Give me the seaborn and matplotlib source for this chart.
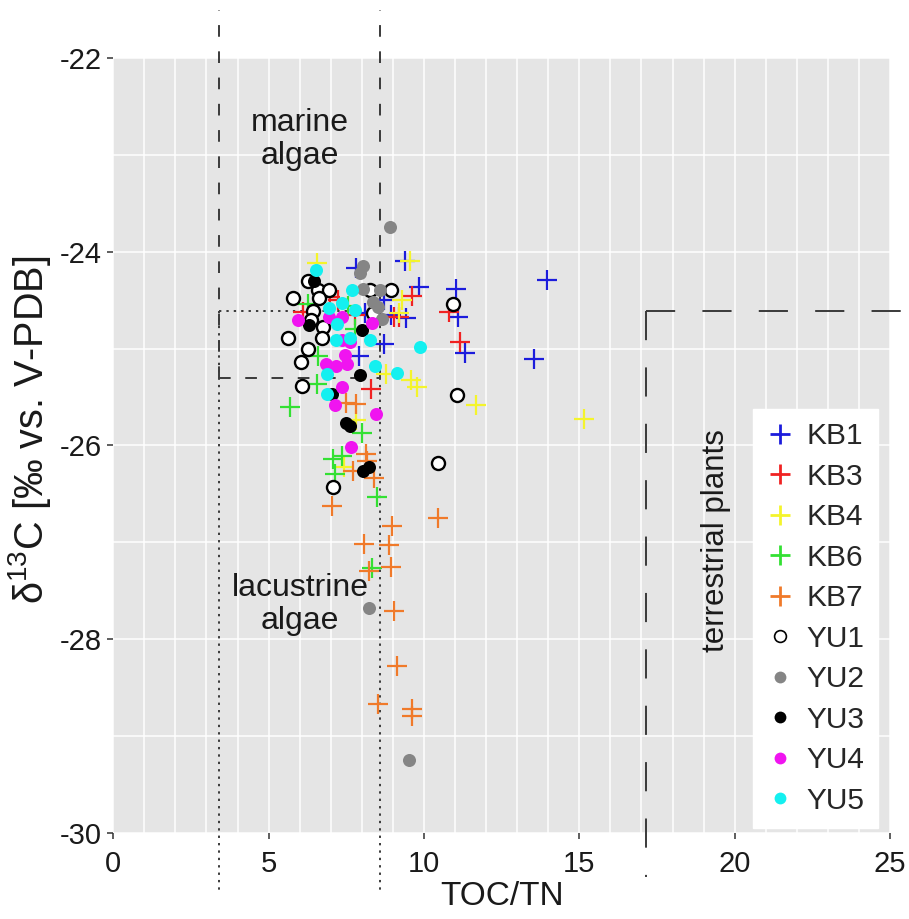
import matplotlib
matplotlib.use("Agg")
import matplotlib.pyplot as plt
import seaborn as sns
import pandas as pd
from matplotlib.lines import Line2D

# ---------------- data ----------------
KB1_x = [7.82, 9.40, 9.83, 11.02, 13.95, 8.72, 8.10, 8.93, 9.42, 11.10, 8.72, 7.92, 11.32, 13.55]
KB1_y = [-24.17, -24.10, -24.36, -24.38, -24.29, -24.50, -24.63, -24.65, -24.68, -24.67, -24.95, -25.08, -25.05, -25.11]

KB3_x = [9.62, 9.05, 9.20, 10.82, 11.15, 8.30, 7.23, 7.78, 6.10, 6.98]
KB3_y = [-24.46, -24.67, -24.67, -24.62, -24.93, -25.42, -24.50, -24.65, -24.62, -24.47]

KB4_x = [6.55, 9.55, 9.30, 9.20, 8.78, 9.58, 9.78, 11.68, 15.15, 7.80, 7.42]
KB4_y = [-24.12, -24.10, -24.50, -24.63, -25.26, -25.32, -25.40, -25.58, -25.73, -25.74, -26.22]

KB6_x = [5.70, 6.55, 6.60, 6.28, 7.57, 7.78, 8.00, 7.08, 7.35, 7.14, 8.50, 8.34]
KB6_y = [-25.60, -25.37, -25.08, -24.54, -24.56, -24.80, -25.87, -26.14, -26.11, -26.29, -26.53, -27.26]

KB7_x = [7.50, 7.82, 8.14, 8.16, 7.71, 8.40, 7.05, 10.45, 8.98, 8.08, 8.88, 8.93, 8.22, 9.04, 9.14, 8.51, 9.60, 9.60]
KB7_y = [-25.56, -25.57, -26.09, -26.16, -26.26, -26.34, -26.62, -26.75, -26.83, -27.02, -27.03, -27.25, -27.30, -27.71, -28.28, -28.67, -28.72, -28.79]

YU1_x = [6.26, 6.58, 6.95, 5.79, 6.61, 6.42, 6.37, 6.74, 5.63, 6.72, 6.26, 6.05, 6.08, 8.26, 8.93, 8.37, 10.93, 11.05, 10.45, 7.08]
YU1_y = [-24.30, -24.39, -24.40, -24.48, -24.48, -24.61, -24.70, -24.78, -24.89, -24.89, -25.00, -25.14, -25.39, -24.40, -24.40, -24.63, -24.54, -25.48, -26.18, -26.43]

YU2_x = [8.90, 8.04, 7.94, 8.04, 8.58, 8.36, 8.52, 8.66, 8.24, 9.52]
YU2_y = [-23.74, -24.15, -24.22, -24.38, -24.40, -24.52, -24.57, -24.69, -27.68, -29.25]

YU3_x = [6.47, 6.29, 8.00, 7.95, 7.50, 7.62, 8.03, 8.24, 7.05]
YU3_y = [-24.30, -24.76, -24.81, -25.27, -25.77, -25.80, -26.26, -26.22, -25.47]

YU4_x = [5.95, 6.95, 7.37, 8.32, 7.63, 7.37, 7.47, 6.84, 7.16, 7.53, 7.37, 7.14, 8.47, 7.66]
YU4_y = [-24.70, -24.67, -24.67, -24.74, -24.93, -24.91, -25.07, -25.16, -25.18, -25.16, -25.40, -25.58, -25.68, -26.02]

YU5_x = [6.53, 7.68, 7.37, 6.95, 7.79, 7.21, 7.16, 7.63, 8.26, 8.42, 6.89, 6.89, 9.14, 9.87]
YU5_y = [-24.19, -24.39, -24.53, -24.58, -24.60, -24.75, -24.91, -24.89, -24.91, -25.18, -25.26, -25.47, -25.25, -24.98]

series_names = ["KB1", "KB3", "KB4", "KB6", "KB7", "YU1", "YU2", "YU3", "YU4", "YU5"]
series_x = [KB1_x, KB3_x, KB4_x, KB6_x, KB7_x, YU1_x, YU2_x, YU3_x, YU4_x, YU5_x]
series_y = [KB1_y, KB3_y, KB4_y, KB6_y, KB7_y, YU1_y, YU2_y, YU3_y, YU4_y, YU5_y]

x_ticks = [0, 5, 10, 15, 20, 25]
y_ticks = [-30, -28, -26, -24, -22]

# reference-field boundaries (data units)
algae_x_left = 3.39
algae_x_right = 8.57
lacustrine_top = -24.61
marine_bottom = -25.30
terr_x = 17.15
terr_y = -24.61

# ---------------- style ----------------
colors = {"KB1": "#1c1cdc", "KB3": "#f02222", "KB4": "#f4f42c", "KB6": "#33e033",
          "KB7": "#f07a2a", "YU1": "white", "YU2": "#858585", "YU3": "black",
          "YU4": "#f014f0", "YU5": "#14f0f0"}

sns.set_theme(style="darkgrid", rc={"axes.facecolor": "#E5E5E5", "grid.color": "white"})
plt.rcParams["font.family"] = ["Liberation Sans", "DejaVu Sans"]
plt.rcParams["mathtext.fontset"] = "custom"
plt.rcParams["mathtext.rm"] = "Liberation Sans"
plt.rcParams["mathtext.default"] = "regular"
plt.rcParams["axes.unicode_minus"] = False

fig = plt.figure(figsize=(9.09, 9.19), dpi=100)
ax = fig.add_axes([0.1246, 0.0936, 0.8545, 0.8433])

frames = []
for name, xs, ys in zip(series_names, series_x, series_y):
    frames.append(pd.DataFrame({"TOC/TN": xs, "d13C": ys, "series": name}))
df = pd.concat(frames, ignore_index=True)

handles = []
for name in series_names:
    sub = df[df["series"] == name]
    if name.startswith("KB"):
        sns.scatterplot(data=sub, x="TOC/TN", y="d13C", ax=ax, marker="+", s=200,
                        color=colors[name], linewidth=1.6, zorder=3, legend=False)
        handles.append(Line2D([], [], linestyle="none", marker="+", markersize=14,
                              markeredgewidth=2.0, color=colors[name], label=name))
    else:
        ec = "black" if name == "YU1" else colors[name]
        lw = 1.7 if name == "YU1" else 0
        sns.scatterplot(data=sub, x="TOC/TN", y="d13C", ax=ax, marker="o", s=88,
                        color=colors[name], edgecolor=ec, linewidth=lw, zorder=4, legend=False)
        handles.append(Line2D([], [], linestyle="none", marker="o", markersize=8.5,
                              markerfacecolor=colors[name], markeredgecolor=ec,
                              markeredgewidth=1.2 if name == "YU1" else 0, label=name))

ax.set_xlim(0, 25)
ax.set_ylim(-30, -22)
ax.set_xticks(x_ticks)
ax.set_yticks(y_ticks)
ax.set_xticks(range(0, 26), minor=True)
ax.set_yticks(range(-30, -21), minor=True)
ax.grid(which="both", color="white", linewidth=1.1)
ax.tick_params(which="major", length=4.5, width=1.1, color="#333333", labelsize=21,
               labelcolor="#1a1a1a", bottom=True, left=True)
ax.tick_params(axis="x", pad=8)
ax.tick_params(axis="y", pad=4)
ax.tick_params(which="minor", length=0)
for sp in ax.spines.values():
    sp.set_visible(False)

ax.set_xlabel("TOC/TN", fontsize=24, color="#1a1a1a")
ax.set_ylabel("δ$^{13}$C [‰ vs. V-PDB]", fontsize=28.5, color="#1a1a1a")
ax.xaxis.set_label_coords(0.5, -0.062)
ax.yaxis.set_label_coords(-0.078, 0.52)

# reference-field lines
lc = "#3a3a3a"
dash = (0, (6, 7.5))
dot = (0, (1.2, 2.6))
longdash = (0, (15, 14))
ax.plot([algae_x_left, algae_x_left], [marine_bottom, -21.5], color=lc, lw=1.4, ls=dash, clip_on=False, zorder=2)
ax.plot([algae_x_right, algae_x_right], [marine_bottom, -21.5], color=lc, lw=1.4, ls=dash, clip_on=False, zorder=2)
ax.plot([algae_x_left, algae_x_right], [marine_bottom, marine_bottom], color=lc, lw=1.4, ls=dash, zorder=2)
ax.plot([algae_x_left, algae_x_left], [lacustrine_top, -30.6], color=lc, lw=1.4, ls=dot, clip_on=False, zorder=2)
ax.plot([algae_x_right, algae_x_right], [lacustrine_top, -30.6], color=lc, lw=1.4, ls=dot, clip_on=False, zorder=2)
ax.plot([algae_x_left, algae_x_right], [lacustrine_top, lacustrine_top], color=lc, lw=1.4, ls=dot, zorder=2)
ax.plot([terr_x, terr_x], [terr_y, -30.45], color=lc, lw=1.4, ls=longdash, clip_on=False, zorder=2)
ax.plot([terr_x, 25.6], [terr_y, terr_y], color=lc, lw=1.4, ls=longdash, clip_on=False, zorder=2)

ax.text(6.01, -22.84, "marine\nalgae", fontsize=23, ha="center", va="center",
        linespacing=1.15, color="#1a1a1a")
ax.text(6.01, -27.64, "lacustrine\nalgae", fontsize=23, ha="center", va="center",
        linespacing=1.15, color="#1a1a1a")
ax.text(19.4, -26.98, "terrestrial plants", fontsize=22.5, ha="center", va="center",
        rotation=90, color="#1a1a1a")

leg = ax.legend(handles=handles, loc="lower right", bbox_to_anchor=(0.9845, 0.006),
                fontsize=21.5, frameon=True, fancybox=False, framealpha=1,
                edgecolor="white", facecolor="white", labelspacing=0.42,
                handlelength=0.9, handletextpad=0.45, borderpad=0.45, borderaxespad=0)
leg.set_zorder(6)

fig.savefig("out.png", dpi=100)
